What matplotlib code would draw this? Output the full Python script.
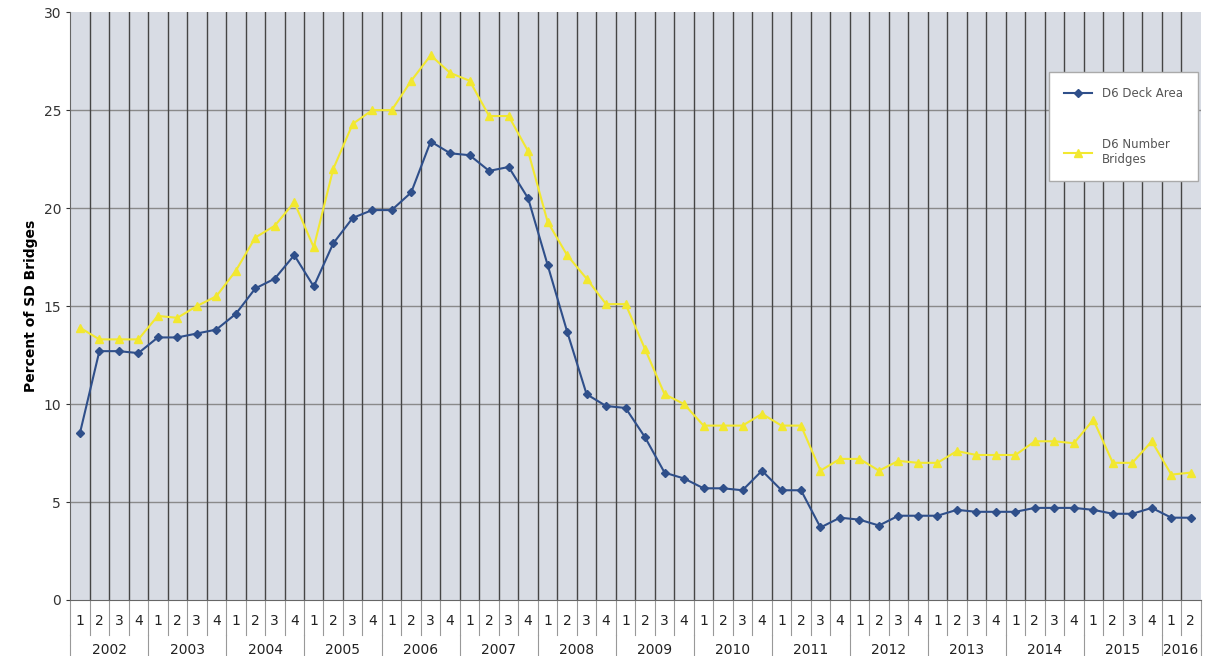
import matplotlib
matplotlib.use("Agg")
import matplotlib.pyplot as plt
import numpy as np

years = [str(y) for y in range(2002, 2017)]
quarters_per_year = [4] * 14 + [2]

deck_area = [8.5, 12.7, 12.7, 12.6,
             13.4, 13.4, 13.6, 13.8,
             14.6, 15.9, 16.4, 17.6,
             16.0, 18.2, 19.5, 19.9,
             19.9, 20.8, 23.4, 22.8,
             22.7, 21.9, 22.1, 20.5,
             17.1, 13.7, 10.5, 9.9,
             9.8, 8.3, 6.5, 6.2,
             5.7, 5.7, 5.6, 6.6,
             5.6, 5.6, 3.7, 4.2,
             4.1, 3.8, 4.3, 4.3,
             4.3, 4.6, 4.5, 4.5,
             4.5, 4.7, 4.7, 4.7,
             4.6, 4.4, 4.4, 4.7,
             4.2, 4.2]

number_bridges = [13.9, 13.3, 13.3, 13.3,
                  14.5, 14.4, 15.0, 15.5,
                  16.8, 18.5, 19.1, 20.3,
                  18.0, 22.0, 24.3, 25.0,
                  25.0, 26.5, 27.8, 26.9,
                  26.5, 24.7, 24.7, 22.9,
                  19.3, 17.6, 16.4, 15.1,
                  15.1, 12.8, 10.5, 10.0,
                  8.9, 8.9, 8.9, 9.5,
                  8.9, 8.9, 6.6, 7.2,
                  7.2, 6.6, 7.1, 7.0,
                  7.0, 7.6, 7.4, 7.4,
                  7.4, 8.1, 8.1, 8.0,
                  9.2, 7.0, 7.0, 8.1,
                  6.4, 6.5]

quarter_labels = []
for n in quarters_per_year:
    quarter_labels += [str(q) for q in range(1, n + 1)]

n = len(deck_area)
x = np.arange(n)

fig = plt.figure(figsize=(12.09, 6.56), dpi=100)
ax = fig.add_axes([0.058, 0.0854, 0.935, 0.896])
ax.set_facecolor("#d8dce4")

ax.set_xlim(-0.5, n - 0.5)
ax.set_ylim(0, 30)
ax.set_yticks(range(0, 31, 5))
ax.tick_params(axis="y", labelsize=10, length=3, colors="#333333")
ax.set_xticks([])

for yv in range(5, 30, 5):
    ax.axhline(yv, color="#8a8a8a", lw=1.0, zorder=1)
for b in np.arange(0.5, n - 0.5, 1):
    ax.axvline(b, color="#454545", lw=1.0, zorder=1)

for s in ["top", "right"]:
    ax.spines[s].set_visible(False)
ax.spines["left"].set_color("#666666")
ax.spines["bottom"].set_color("#666666")

ax.plot(x, deck_area, color="#2f4f8a", lw=1.5, marker="D", ms=4.5,
        mec="#2f4f8a", label="D6 Deck Area", zorder=3)
ax.plot(x, number_bridges, color="#f2e830", lw=1.5, marker="^", ms=5.5,
        mec="#f2e830", label="D6 Number\nBridges", zorder=3)

ax.set_ylabel("Percent of SD Bridges", fontsize=10, fontweight="bold")

# category axis labels
trans = ax.get_xaxis_transform()
for i, lab in enumerate(quarter_labels):
    ax.text(x[i], -0.035, lab, transform=trans, ha="center", va="center",
            fontsize=10, color="#222222")
for b in np.arange(-0.5, n, 1):
    ax.plot([b, b], [0, -0.06], transform=trans, color="#999999", lw=0.8,
            clip_on=False)
start = 0
for yr, cnt in zip(years, quarters_per_year):
    center = start + (cnt - 1) / 2
    ax.text(center, -0.085, yr, transform=trans, ha="center", va="center",
            fontsize=10, color="#222222")
    ax.plot([start - 0.5, start - 0.5], [-0.06, -0.11], transform=trans,
            color="#999999", lw=0.8, clip_on=False)
    start += cnt
ax.plot([n - 0.5, n - 0.5], [-0.06, -0.11], transform=trans,
        color="#999999", lw=0.8, clip_on=False)

leg = ax.legend(loc="upper right", bbox_to_anchor=(1.003, 0.909), fontsize=8.5,
                frameon=True, fancybox=False, labelspacing=3.2,
                handlelength=2.4, borderpad=1.3, framealpha=1,
                edgecolor="#aaaaaa")
for t in leg.get_texts():
    t.set_color("#555555")

fig.savefig("out.png", dpi=100)
